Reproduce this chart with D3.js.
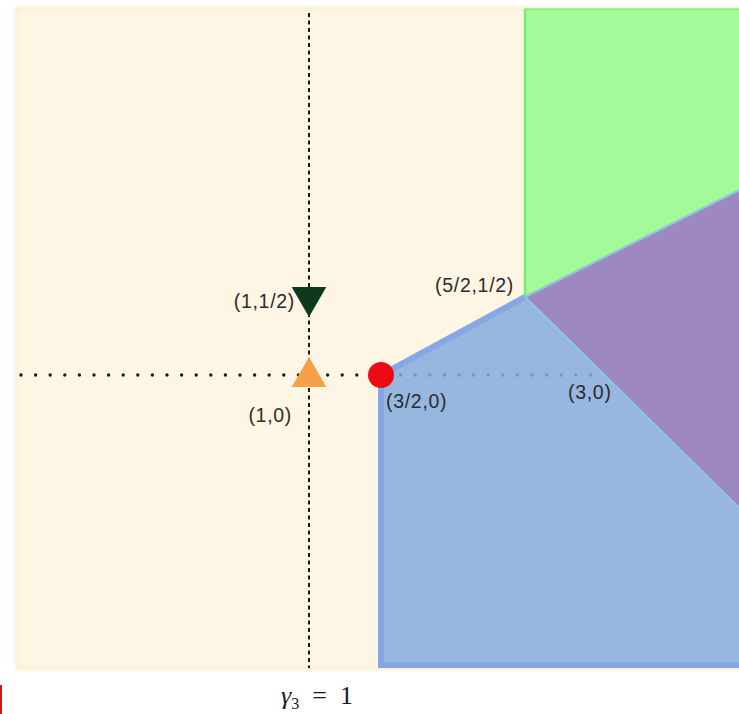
<!DOCTYPE html>
<html>
<head>
<meta charset="utf-8">
<script src="https://cdn.jsdelivr.net/npm/d3@7"></script>
<style>
  html, body { margin: 0; padding: 0; background: #ffffff; }
  svg { display: block; }
</style>
</head>
<body>
<div id="chart"></div>
<script>
// Plane extents (data units)
const frameX = [-1.03, 4.0];
const frameY = [-1.88, 2.35];

// Region vertices (data units)
const greenRegion  = [[2.5, 0.5], [2.5, 2.35], [4.0, 2.35], [4.0, 1.19]];
const purpleRegion = [[2.5, 0.5], [4.0, 1.19], [4.0, -0.865]];
const blueRegion   = [[1.5, 0], [2.5, 0.5], [4.0, -0.865], [4.0, -1.86], [1.5, -1.86]];
// outlined edges of the blue region (bottom, left, upper-left)
const blueOutline  = [[4.0, -1.86], [1.5, -1.86], [1.5, 0], [2.5, 0.5]];

// Guide lines: vertical at γ3 = 1, horizontal at 0
const vGuideX = 1;
const vGuideY = [-1.88, 2.32];
const hGuideY = 0;
const hGuideX = [-1.0, 3.0];

// Marked points
const markerKinds = ["up", "down", "circle"];
const markerX = [1, 1, 1.5];
const markerY = [0, 0.5, 0];

// Point labels
const labelTexts = ["(1,0)", "(1,1/2)", "(3/2,0)", "(3,0)", "(5/2,1/2)"];
const labelX = [1, 1, 1.5, 3, 2.5];
const labelY = [0, 0.5, 0, 0, 0.5];

const W = 739, H = 714;

const x = d3.scaleLinear().domain([1, 1.5]).range([309, 381]);
const y = d3.scaleLinear().domain([0, 0.5]).range([375, 297]);

const svg = d3.select("#chart").append("svg")
  .attr("width", W).attr("height", H);

const defs = svg.append("defs");
defs.append("clipPath").attr("id", "frame-clip")
  .append("rect")
  .attr("x", x(frameX[0])).attr("y", y(frameY[1]))
  .attr("width", x(frameX[1]) - x(frameX[0]))
  .attr("height", y(frameY[0]) - y(frameY[1]));
defs.append("filter").attr("id", "soft")
  .attr("x", "-5%").attr("y", "-5%").attr("width", "110%").attr("height", "110%")
  .append("feGaussianBlur").attr("stdDeviation", 1.6);

// Background plane
svg.append("rect")
  .attr("x", x(frameX[0])).attr("y", y(frameY[1]))
  .attr("width", x(frameX[1]) - x(frameX[0]))
  .attr("height", y(frameY[0]) - y(frameY[1]))
  .attr("fill", "#fdf4de")
  .attr("stroke", "#fcefd0").attr("stroke-width", 3)
  .attr("filter", "url(#soft)");
svg.append("rect")
  .attr("x", x(frameX[0]) + 3).attr("y", y(frameY[1]) + 3)
  .attr("width", x(frameX[1]) - x(frameX[0]) - 3)
  .attr("height", y(frameY[0]) - y(frameY[1]) - 6)
  .attr("fill", "#fef6e5");

const plot = svg.append("g").attr("clip-path", "url(#frame-clip)");

// Dotted guides
plot.append("line")
  .attr("x1", x(vGuideX)).attr("x2", x(vGuideX))
  .attr("y1", y(vGuideY[1])).attr("y2", y(vGuideY[0]))
  .attr("stroke", "#1a1a1a").attr("stroke-width", 2)
  .attr("stroke-dasharray", "4,3.5");
plot.append("line")
  .attr("x1", x(hGuideX[0])).attr("x2", x(hGuideX[1]))
  .attr("y1", y(hGuideY)).attr("y2", y(hGuideY))
  .attr("stroke", "#1a1a1a").attr("stroke-width", 3.4)
  .attr("stroke-linecap", "round")
  .attr("stroke-dasharray", "0,14.6");

const poly = d3.line().x(d => x(d[0])).y(d => y(d[1])).curve(d3.curveLinearClosed);
const open = d3.line().x(d => x(d[0])).y(d => y(d[1]));

plot.append("path").attr("d", poly(greenRegion))
  .attr("fill", "#a3fa9b").attr("stroke", "#7fe97a").attr("stroke-width", 2.5);
plot.append("path").attr("d", poly(purpleRegion))
  .attr("fill", "#9e88c0").attr("stroke", "#93c4e2").attr("stroke-width", 2)
  .attr("stroke-linejoin", "round");
plot.append("path").attr("d", poly(blueRegion))
  .attr("fill", "rgb(133,170,223)").attr("fill-opacity", 0.85);
plot.append("path").attr("d", open(blueOutline))
  .attr("fill", "none")
  .attr("stroke", "#84a8e3").attr("stroke-width", 6)
  .attr("stroke-linejoin", "miter");
// light seam where the blue and purple regions meet
plot.append("line")
  .attr("x1", x(purpleRegion[0][0])).attr("y1", y(purpleRegion[0][1]))
  .attr("x2", x(purpleRegion[2][0])).attr("y2", y(purpleRegion[2][1]))
  .attr("stroke", "#90c5df").attr("stroke-width", 2.2);

// Markers
const markerStyle = {
  up:     { fill: "#f6a04a", rotate: 0 },
  down:   { fill: "#0d3a1d", rotate: 180 },
  circle: { fill: "#ec0b14", rotate: 0 }
};
markerKinds.forEach((k, i) => {
  const st = markerStyle[k];
  if (k === "circle") {
    svg.append("circle")
      .attr("cx", x(markerX[i])).attr("cy", y(markerY[i]))
      .attr("r", 13).attr("fill", st.fill);
  } else {
    svg.append("path")
      .attr("d", d3.symbol(d3.symbolTriangle, 520)())
      .attr("transform", `translate(${x(markerX[i])},${y(markerY[i]) + (k === "up" ? 2 : 0)}) rotate(${st.rotate})`)
      .attr("fill", st.fill);
  }
});

// Labels (offsets in pixels from the labelled point)
const labelOffset = [
  { dx: -17, dy: 47, anchor: "end" },
  { dx: -14, dy: 11, anchor: "end" },
  { dx: 5,   dy: 33, anchor: "start" },
  { dx: -29, dy: 24, anchor: "start" },
  { dx: -11, dy: -5, anchor: "end" }
];
labelTexts.forEach((t, i) => {
  const o = labelOffset[i];
  svg.append("text")
    .attr("x", x(labelX[i]) + o.dx).attr("y", y(labelY[i]) + o.dy)
    .attr("text-anchor", o.anchor)
    .attr("font-family", "Liberation Sans, Arial, sans-serif")
    .attr("font-size", 19.5).attr("letter-spacing", 0.7)
    .attr("fill", "#2c2c2c")
    .text(t);
});

// Axis caption under the vertical guide
const cap = svg.append("text")
  .attr("x", x(vGuideX) + 8).attr("y", 704)
  .attr("text-anchor", "middle")
  .attr("font-family", "Liberation Serif, DejaVu Serif, serif")
  .attr("font-size", 26).attr("fill", "#1a1a1a");
cap.append("tspan").attr("font-style", "italic").text("γ");
cap.append("tspan").attr("font-size", 16).attr("dy", 5).text("3");
cap.append("tspan").attr("dy", -5).text("\u2002=\u20021");

// small red edge mark at the lower left
svg.append("rect").attr("x", 0).attr("y", 685).attr("width", 2).attr("height", 29).attr("fill", "#e01010");
</script>
</body>
</html>
